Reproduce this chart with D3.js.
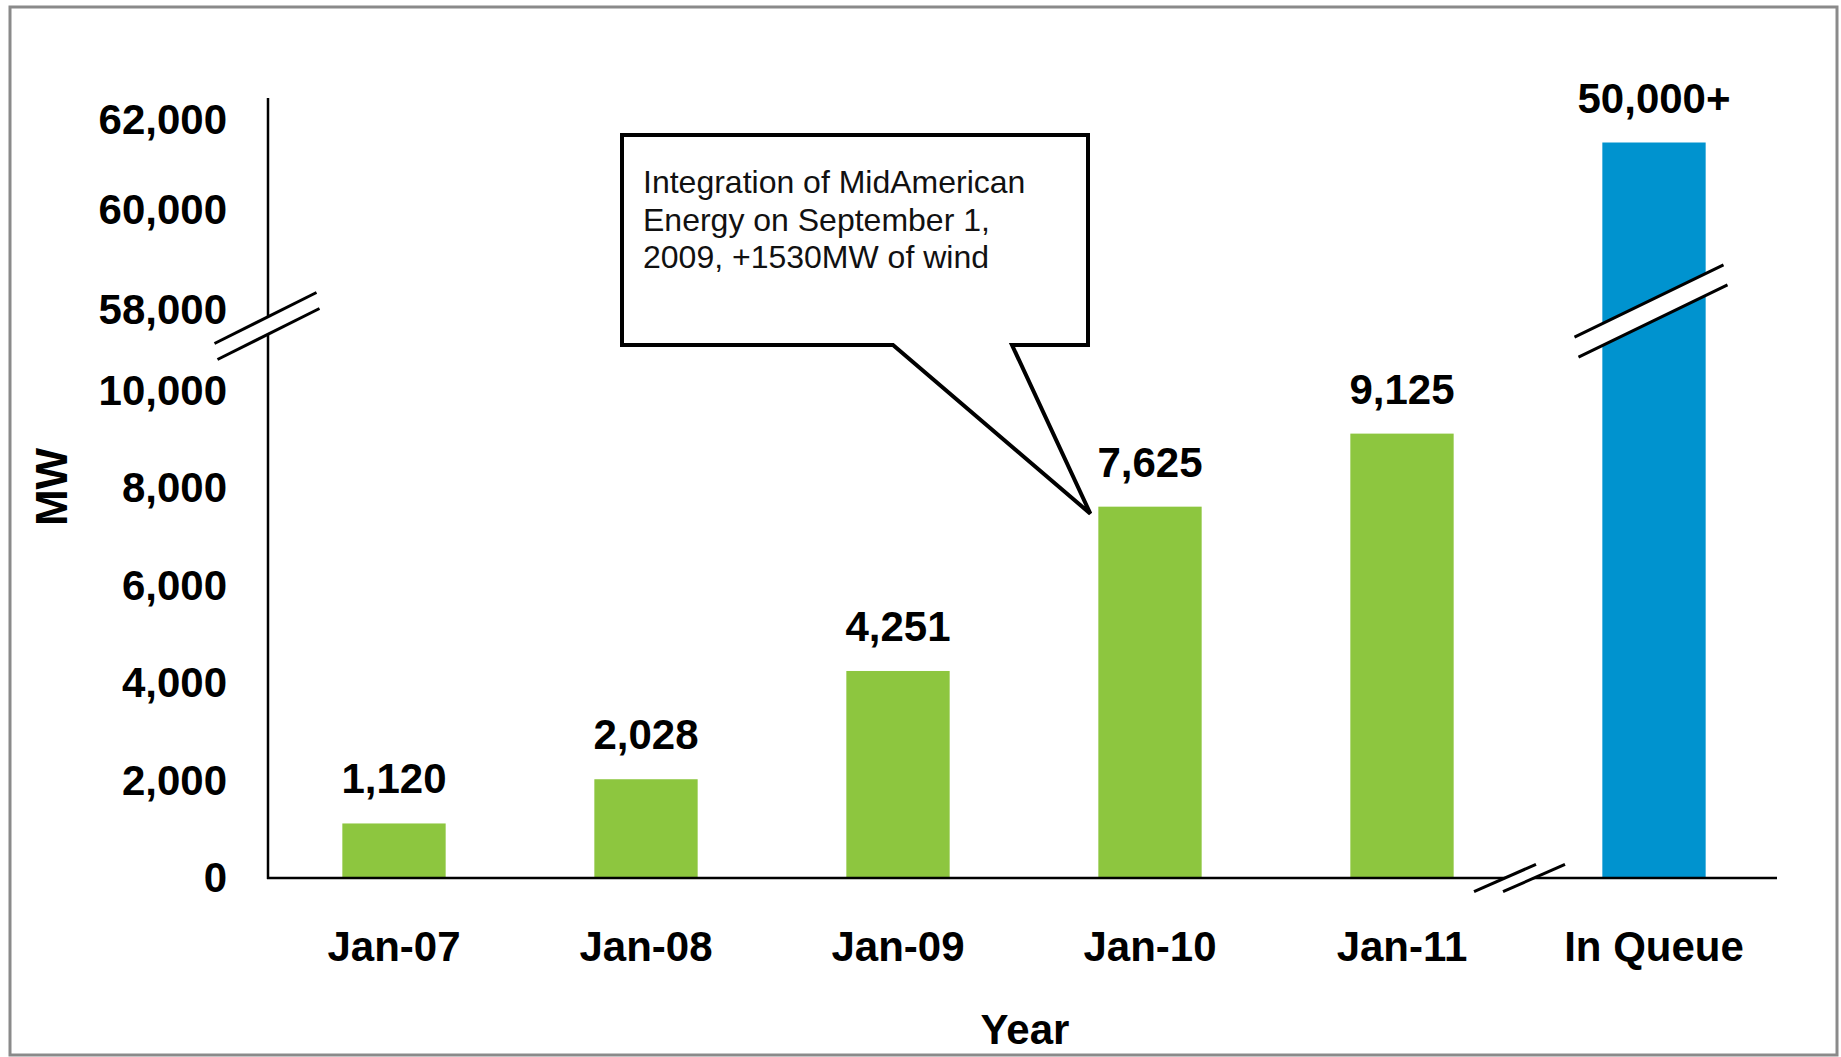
<!DOCTYPE html>
<html lang="en">
<head>
	<meta charset="utf-8">
	<title>MW of wind: broken axis bar chart</title>
	<script type="text/javascript" src="https://d3js.org/d3.v7.min.js"></script>
	<style>
		body { margin: 0; background: #fff; }
		text { font-family: "Liberation Sans", Arial, sans-serif; }
	</style>
</head>
<body>
	<script type="text/javascript">

        // chart values
        var categories = ["Jan-07", "Jan-08", "Jan-09", "Jan-10", "Jan-11", "In Queue"];
        // the queue bar is drawn up to ~61,500 on the broken upper scale
        var mw = [1120, 2028, 4251, 7625, 9125, 61500];
        var valueLabels = ["1,120", "2,028", "4,251", "7,625", "9,125", "50,000+"];
        var yTicks = [0, 2000, 4000, 6000, 8000, 10000, 58000, 60000, 62000];
        var barColors = ["#8dc63f", "#8dc63f", "#8dc63f", "#8dc63f", "#8dc63f", "#0093cf"];
        var note = ["Integration of MidAmerican", "Energy on September 1,", "2009, +1530MW of wind"];

        var width = 1841, height = 1057;

        var svg = d3.select("body")
            .append("svg")
            .attr("width", width)
            .attr("height", height);

        // outer frame
        svg.append("rect")
            .attr("x", 10).attr("y", 7)
            .attr("width", 1827).attr("height", 1048)
            .attr("fill", "none")
            .attr("stroke", "#8a8a8a")
            .attr("stroke-width", 3);

        var x = d3.scaleBand()
            .domain(categories)
            .range([268, 1780])
            .paddingInner(0.59)
            .paddingOuter(0.295);

        // piecewise scale: lower part 0..10,000, upper part 58,000..62,000
        var y = d3.scaleLinear()
            .domain([0, 10000, 58000, 60000, 62000])
            .range([878, 391, 310, 210, 120]);

        // bars
        svg.selectAll(".bar")
            .data(mw)
            .enter()
            .append("rect")
            .attr("class", "bar")
            .attr("x", function(d, i) { return x(categories[i]); })
            .attr("y", function(d) { return y(d); })
            .attr("width", x.bandwidth())
            .attr("height", function(d) { return y(0) - y(d); })
            .attr("fill", function(d, i) { return barColors[i]; });

        // value labels
        svg.selectAll(".val")
            .data(mw)
            .enter()
            .append("text")
            .attr("class", "val")
            .attr("x", function(d, i) { return x(categories[i]) + x.bandwidth() / 2; })
            .attr("y", function(d) { return y(d) - 30; })
            .attr("text-anchor", "middle")
            .attr("font-size", 42)
            .attr("font-weight", "bold")
            .text(function(d, i) { return valueLabels[i]; });

        // y axis labels
        var yAxis = svg.append("g")
            .attr("transform", "translate(268,0)")
            .call(d3.axisLeft(y).tickValues(yTicks).tickFormat(d3.format(",")).tickSize(0).tickPadding(41));
        yAxis.select(".domain").remove();
        yAxis.selectAll("text")
            .attr("font-size", 42)
            .attr("font-weight", "bold")
            .attr("font-family", "'Liberation Sans', Arial, sans-serif")
            .attr("fill", "#000");

        // x axis labels
        var xAxis = svg.append("g")
            .attr("transform", "translate(0," + y(0) + ")")
            .call(d3.axisBottom(x).tickSize(0).tickPadding(53));
        xAxis.select(".domain").remove();
        xAxis.selectAll("text")
            .attr("font-size", 42)
            .attr("font-weight", "bold")
            .attr("font-family", "'Liberation Sans', Arial, sans-serif")
            .attr("fill", "#000");

        // axis lines
        svg.append("line")
            .attr("x1", 268).attr("x2", 268)
            .attr("y1", 98).attr("y2", y(0) + 1)
            .attr("stroke", "#000").attr("stroke-width", 2.5);
        svg.append("line")
            .attr("x1", 267).attr("x2", 1777)
            .attr("y1", y(0)).attr("y2", y(0))
            .attr("stroke", "#000").attr("stroke-width", 2.5);

        // break marks: white gap between two parallel slashes
        function drawBreak(cx, cy, half, slope, dx, dy) {
            var l1 = [[cx - dx - half, cy - dy + half * slope], [cx - dx + half, cy - dy - half * slope]];
            var l2 = [[cx + dx - half, cy + dy + half * slope], [cx + dx + half, cy + dy - half * slope]];
            svg.append("polygon")
                .attr("points", [l1[0], l1[1], l2[1], l2[0]].map(function(p) { return p.join(","); }).join(" "))
                .attr("fill", "#fff");
            [l1, l2].forEach(function(l) {
                svg.append("line")
                    .attr("x1", l[0][0]).attr("y1", l[0][1])
                    .attr("x2", l[1][0]).attr("y2", l[1][1])
                    .attr("stroke", "#000").attr("stroke-width", 3);
            });
        }
        drawBreak(267, y(58000) + 16, 51, 0.5, 1.5, 8);
        drawBreak(x("In Queue") + x.bandwidth() / 2 - 3, y(58000) + 1, 74.5, 0.484, 2, 10);
        drawBreak(1519.5, y(0), 31, 0.44, 14.5, 0);

        // axis titles
        svg.append("text")
            .attr("x", 1025).attr("y", 1044)
            .attr("text-anchor", "middle")
            .attr("font-size", 42)
            .attr("font-weight", "bold")
            .text("Year");
        svg.append("text")
            .attr("transform", "translate(67,487) rotate(-90)")
            .attr("text-anchor", "middle")
            .attr("font-size", 44)
            .attr("font-weight", "bold")
            .text("MW");

        // callout pointing at the Jan-10 bar
        var tipX = x("Jan-10") - 8, tipY = y(7625) + 7;
        svg.append("path")
            .attr("d", "M622,135 L1088,135 L1088,345 L1012,345 L" + tipX + "," + tipY + " L893,345 L622,345 Z")
            .attr("fill", "#fff")
            .attr("stroke", "#000")
            .attr("stroke-width", 4)
            .attr("stroke-linejoin", "miter");

        svg.selectAll(".note")
            .data(note)
            .enter()
            .append("text")
            .attr("class", "note")
            .attr("x", 643)
            .attr("y", function(d, i) { return 193 + i * 37.5; })
            .attr("font-size", 32)
            .attr("fill", "#111")
            .text(function(d) { return d; });

	</script>
</body>
</html>
